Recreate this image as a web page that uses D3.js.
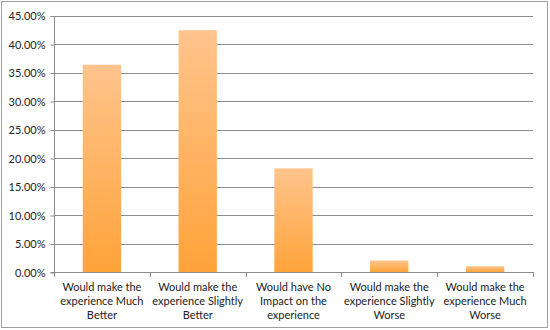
<!DOCTYPE html>
<html><head><meta charset="utf-8">
<script src="https://cdn.jsdelivr.net/npm/d3@7"></script>
<style>body{margin:0;background:#fff}svg{display:block}text{font-family:Lato,"Open Sans",sans-serif;fill:#222}</style>
</head><body><svg id="c" width="550" height="330"></svg>
<script>
const categories = [
  ["Would make the", "experience Much", "Better"],
  ["Would make the", "experience Slightly", "Better"],
  ["Would have No", "Impact on the", "experience"],
  ["Would make the", "experience Slightly", "Worse"],
  ["Would make the", "experience Much", "Worse"]
];
const values = [0.3636, 0.4242, 0.1818, 0.0202, 0.0101];
const yTicks = [0, 0.05, 0.10, 0.15, 0.20, 0.25, 0.30, 0.35, 0.40, 0.45];

const svg = d3.select("#c");
const m = {left: 54, right: 533, top: 15.5, bottom: 272};

svg.append("rect").attr("x", 1.5).attr("y", 1.5).attr("width", 546).attr("height", 326)
  .attr("fill", "#fff").attr("stroke", "#a0a0a0").attr("stroke-width", 1);

const defs = svg.append("defs");
const g = defs.append("linearGradient").attr("id", "bg").attr("x1", 0).attr("y1", 0).attr("x2", 0).attr("y2", 1);
g.append("stop").attr("offset", "0%").attr("stop-color", "#FFC48C");
g.append("stop").attr("offset", "100%").attr("stop-color", "#FFA33A");

const idx = categories.map((d, i) => i);
const x = d3.scaleBand().domain(idx).range([m.left, m.right]).paddingInner(0.6).paddingOuter(0.3);
const y = d3.scaleLinear().domain([0, 0.45]).range([m.bottom, m.top]);

// gridlines
svg.append("g").selectAll("line").data(yTicks.filter(t => t > 0)).join("line")
  .attr("x1", m.left).attr("x2", m.right)
  .attr("y1", d => Math.round(y(d)) + 0.5).attr("y2", d => Math.round(y(d)) + 0.5)
  .attr("stroke", "#8c8c8c").attr("stroke-width", 1);

// bars
svg.append("g").selectAll("rect").data(values).join("rect")
  .attr("x", (d, i) => x(i)).attr("width", x.bandwidth())
  .attr("y", d => y(d)).attr("height", d => y(0) - y(d))
  .attr("fill", "url(#bg)");

// y axis
const ya = d3.axisLeft(y).tickValues(yTicks).tickFormat(d3.format(".2%")).tickSize(4).tickPadding(5);
const yg = svg.append("g").attr("transform", `translate(${m.left + 0.5},0.5)`).call(ya);
yg.selectAll("path,line").attr("stroke", "#8c8c8c");
yg.select(".domain").attr("d", `M-4,${Math.round(m.top)}H0V${Math.round(m.bottom)}H-4`);
yg.selectAll("text").style("font-size", "11px").style("font-family", "Lato, sans-serif").attr("fill", "#222");

// x axis
const step = x.step();
const xg = svg.append("g");
xg.append("line").attr("x1", m.left).attr("x2", m.right)
  .attr("y1", Math.round(m.bottom) + 0.5).attr("y2", Math.round(m.bottom) + 0.5).attr("stroke", "#8c8c8c");
xg.selectAll("line.t").data(d3.range(categories.length + 1)).join("line").attr("class", "t")
  .attr("x1", i => Math.round(m.left + i * step) + 0.5).attr("x2", i => Math.round(m.left + i * step) + 0.5)
  .attr("y1", Math.round(m.bottom)).attr("y2", Math.round(m.bottom) + 5).attr("stroke", "#8c8c8c");
xg.selectAll("text").data(categories).join("text")
  .attr("text-anchor", "middle").style("font-size", "11px")
  .attr("transform", (d, i) => `translate(${x(i) + x.bandwidth() / 2},291)`)
  .selectAll("tspan").data(d => d).join("tspan")
  .attr("x", 0).attr("dy", (d, j) => j === 0 ? 0 : 14).text(d => d);
</script></body></html>
